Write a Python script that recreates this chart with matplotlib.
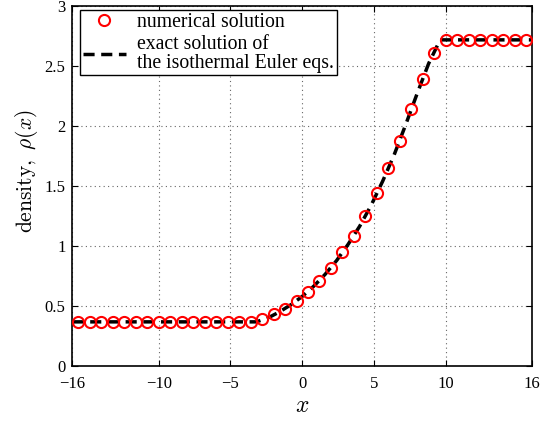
import matplotlib
matplotlib.use('Agg')
import matplotlib.pyplot as plt

# numerical solution (markers)
x_num = [-15.6, -14.8, -14.0, -13.2, -12.4, -11.6, -10.8, -10.0, -9.2, -8.4,
         -7.6, -6.8, -6.0, -5.2, -4.4, -3.6, -2.8, -2.0, -1.2, -0.4,
         0.4, 1.2, 2.0, 2.8, 3.6, 4.4, 5.2, 6.0, 6.8, 7.6,
         8.4, 9.2, 10.0, 10.8, 11.6, 12.4, 13.2, 14.0, 14.8, 15.6]
rho_num = [0.368, 0.368, 0.368, 0.368, 0.368, 0.368, 0.368, 0.368, 0.368, 0.368,
           0.368, 0.368, 0.368, 0.368, 0.368, 0.37, 0.39, 0.43, 0.475, 0.54,
           0.62, 0.71, 0.82, 0.95, 1.086, 1.25, 1.44, 1.65, 1.875, 2.14,
           2.39, 2.61, 2.72, 2.718, 2.718, 2.718, 2.718, 2.718, 2.718, 2.718]

# exact solution (dashed line)
x_exact = [-16, -3.2, -2.4, -1.6, -0.8, 0.0, 0.8, 1.6, 2.4, 3.2,
           4.0, 4.8, 5.6, 6.4, 7.2, 8.0, 8.8, 9.6, 16]
rho_exact = [0.368, 0.368, 0.40, 0.45, 0.51, 0.58, 0.665, 0.765, 0.88, 1.015,
             1.165, 1.34, 1.54, 1.76, 2.01, 2.27, 2.52, 2.718, 2.718]

x_ticks = [-16, -10, -5, 0, 5, 10, 16]
y_ticks = [0, 0.5, 1, 1.5, 2, 2.5, 3]

plt.rcParams['font.family'] = ['Liberation Serif', 'DejaVu Serif']
plt.rcParams['mathtext.fontset'] = 'cm'

fig = plt.figure(figsize=(5.47, 4.21), dpi=100)
ax = fig.add_axes([0.1325, 0.1306, 0.8401, 0.8551])

ax.plot(x_exact, rho_exact, '--', color='black', lw=2.5, dashes=(3.2, 1.9), zorder=2,
        label='exact solution of\nthe isothermal Euler eqs.')
ax.plot(x_num, rho_num, 'o', ms=8, mfc='none', mec='red', mew=1.5, zorder=3,
        label='numerical solution')

ax.set_xlim(-16, 16)
ax.set_ylim(0, 3)
ax.set_xticks(x_ticks)
ax.set_yticks(y_ticks)
ax.set_xticklabels(['\u221216', '\u221210', '\u22125', '0', '5', '10', '16'])
ax.set_yticklabels(['0', '0.5', '1', '1.5', '2', '2.5', '3'])
ax.tick_params(direction='in', top=True, right=True, labelsize=12, length=4, width=0.8)
ax.tick_params(axis='x', pad=7)
ax.tick_params(axis='y', pad=5)
ax.grid(True, linestyle=(0, (1, 3)), color='0.4', lw=0.8)
for s in ax.spines.values():
    s.set_linewidth(1.2)

ax.set_xlabel(r'$x$', fontsize=17, labelpad=3)
ax.set_ylabel(r'$\mathrm{density,}\ \rho(x)$', fontsize=15.5)
ax.yaxis.set_label_coords(-0.07, 0.54)

h, l = ax.get_legend_handles_labels()
leg = ax.legend([h[1], h[0]], [l[1], l[0]], loc='upper left', fontsize=14.2,
                bbox_to_anchor=(0.016, 0.99),
                fancybox=False, edgecolor='black', framealpha=1,
                borderaxespad=0.0, handlelength=2.2, labelspacing=0.15,
                borderpad=0.15, handletextpad=0.55)
leg.get_frame().set_linewidth(1.0)
for t in leg.get_texts():
    t.set_linespacing(1.0)

fig.savefig('out.png', dpi=100)
